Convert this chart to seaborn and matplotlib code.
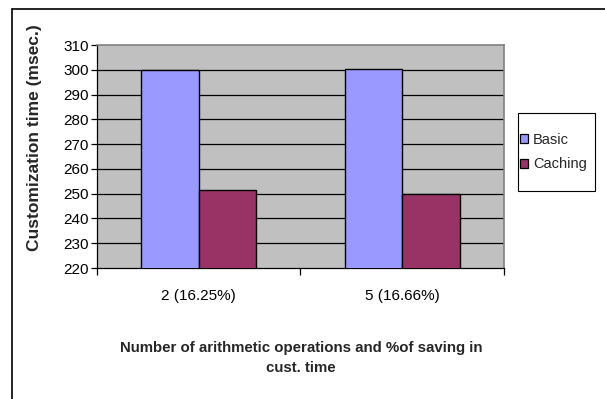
import matplotlib
matplotlib.use("Agg")
import matplotlib.pyplot as plt
from matplotlib.lines import Line2D
from matplotlib.patches import Patch, Rectangle
import numpy as np
import pandas as pd
import seaborn as sns

# Customization time per configuration
categories = ["2 (16.25%)", "5 (16.66%)"]
series_names = ["Basic", "Caching"]
basic_times = [300.0, 300.4]
caching_times = [251.3, 250.0]
y_ticks = [220, 230, 240, 250, 260, 270, 280, 290, 300, 310]
colors = ["#9999FF", "#993366"]

df = pd.DataFrame({
    "ops": categories * 2,
    "time": basic_times + caching_times,
    "method": [series_names[0]] * len(categories) + [series_names[1]] * len(categories),
})

sns.set_theme(style="white")
plt.rcParams["font.family"] = ["Liberation Sans", "DejaVu Sans"]

W, H = 605, 399
fig = plt.figure(figsize=(W / 100, H / 100), dpi=100)
ax = fig.add_axes([97 / W, 1 - 268 / H, (504 - 97) / W, (268 - 45) / H])
ax.set_facecolor("#C0C0C0")

sns.barplot(data=df, x="ops", y="time", hue="method", palette=colors,
            saturation=1, width=0.563, gap=0, edgecolor="black", linewidth=1,
            errorbar=None, ax=ax, zorder=3)

ax.set_ylim(y_ticks[0], y_ticks[-1])
ax.set_xlim(-0.5, len(categories) - 0.5)
ax.set_yticks(y_ticks)
ax.set_yticklabels([str(t) for t in y_ticks], fontsize=11, color="black")
for t in y_ticks[1:-1]:
    ax.axhline(t, color="black", linewidth=0.9, zorder=1)

# category boundary ticks below, labels centred on categories
ax.set_xticks(np.arange(-0.5, len(categories), 1.0))
ax.set_xticklabels([])
ax.set_xticks(np.arange(len(categories)), minor=True)
ax.set_xticklabels(categories, minor=True, fontsize=11, color="black")
ax.tick_params(axis="x", which="major", direction="out", length=5, width=0.9,
               color="black", bottom=True)
ax.tick_params(axis="x", which="minor", length=0, pad=15)
ax.tick_params(axis="y", direction="out", length=4, width=0.9, color="black",
               left=True, pad=2)

for side in ["left", "bottom"]:
    ax.spines[side].set_color("black")
    ax.spines[side].set_linewidth(0.9)
for side in ["top", "right"]:
    ax.spines[side].set_color("#808080")
    ax.spines[side].set_linewidth(1.2)

ax.set_xlabel("")
ax.set_ylabel("")
ax.get_legend().remove()

fig.text(35 / W, 1 - 138 / H, "Customization time (msec.)", rotation=90,
         ha="center", va="center", fontsize=12.5, fontweight="bold")
fig.text(301 / W, 1 - 348 / H, "Number of arithmetic operations and %of saving in",
         ha="center", va="center", fontsize=10.8, fontweight="bold")
fig.text(301 / W, 1 - 368 / H, "cust. time",
         ha="center", va="center", fontsize=10.8, fontweight="bold")

# legend box
lx0, lx1, ly0, ly1 = 518, 595, 113, 191
fig.add_artist(Rectangle((lx0 / W, 1 - ly1 / H), (lx1 - lx0) / W, (ly1 - ly0) / H,
                         transform=fig.transFigure, fill=False,
                         edgecolor="black", linewidth=0.8))
handles = [Patch(facecolor=c, edgecolor="black", linewidth=0.9) for c in colors]
fig.legend(handles, series_names, loc="center left",
           bbox_to_anchor=((lx0 + 1) / W, 1 - (ly0 + ly1) / 2 / H),
           borderaxespad=0, frameon=False, fontsize=10.5,
           handlelength=0.5, handleheight=0.55, handletextpad=0.35,
           labelspacing=0.75, borderpad=0.1)

# outer chart frame
x0, y0 = 12 / W, 1 - 9 / H
fig.add_artist(Line2D([x0, x0], [0, y0], color="black", linewidth=1.2, transform=fig.transFigure))
fig.add_artist(Line2D([x0, 1], [y0, y0], color="black", linewidth=1.2, transform=fig.transFigure))

fig.savefig("out.png", dpi=100)
